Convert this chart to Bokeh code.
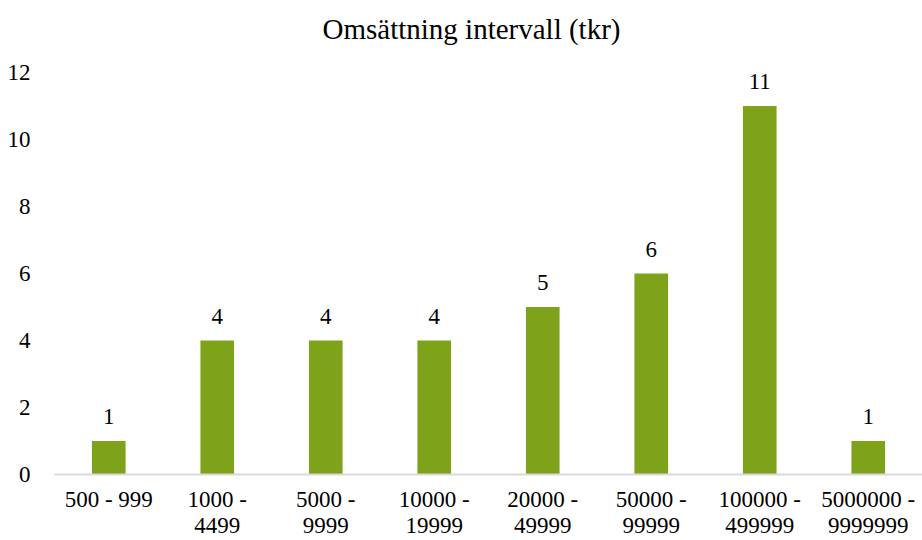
from bokeh.plotting import figure
from bokeh.models import ColumnDataSource, LabelSet, FixedTicker, FactorRange, Range1d, Title
from bokeh.embed import file_html
from bokeh.resources import INLINE

categories = ["500 - 999", "1000 -\n4499", "5000 -\n9999", "10000 -\n19999",
              "20000 -\n49999", "50000 -\n99999", "100000 -\n499999", "5000000 -\n9999999"]
values = [1, 4, 4, 4, 5, 6, 11, 1]
value_labels = [str(v) for v in values]
y_ticks = [0, 2, 4, 6, 8, 10, 12]
title_text = "Omsättning intervall (tkr)"

FONT = "Liberation Serif"
BAR = "#7EA31B"

src = ColumnDataSource(dict(cat=categories, val=values, lab=value_labels))

p = figure(width=922, height=540, output_backend="svg", toolbar_location=None,
           x_range=FactorRange(*categories), y_range=Range1d(0, 12),
           min_border_left=54, min_border_right=0,
           min_border_top=72, min_border_bottom=65)

p.vbar(x="cat", top="val", width=0.31, source=src, fill_color=BAR, line_color=None)

labels = LabelSet(x="cat", y="val", text="lab", source=src, y_offset=17,
                  text_align="center", text_baseline="bottom",
                  text_font=FONT, text_font_size="23px", text_color="#000000")
p.add_layout(labels)

spacer = Title(text=" ", text_font_size="10px")
p.add_layout(spacer, "above")
main_title = Title(text=title_text, align="left", offset=268,
                   text_font=FONT, text_font_size="29px", text_font_style="normal",
                   text_color="#000000")
p.add_layout(main_title, "above")

p.xgrid.grid_line_color = None
p.ygrid.grid_line_color = None
p.outline_line_color = None

p.yaxis.ticker = FixedTicker(ticks=y_ticks)
p.yaxis.axis_line_color = None
p.yaxis.major_tick_line_color = None
p.yaxis.minor_tick_line_color = None
p.yaxis.major_label_text_font = FONT
p.yaxis.major_label_text_font_size = "23px"
p.yaxis.major_label_text_color = "#000000"
p.yaxis.major_label_standoff = 18

p.xaxis.axis_line_color = "#d9d9d9"
p.xaxis.axis_line_width = 2
p.xaxis.major_tick_line_color = None
p.xaxis.minor_tick_line_color = None
p.xaxis.major_label_text_font = FONT
p.xaxis.major_label_text_font_size = "23px"
p.xaxis.major_label_text_color = "#000000"
p.xaxis.major_label_standoff = 6
p.xaxis.major_label_text_line_height = 1.05

open("out.html", "w").write(file_html(p, INLINE))
